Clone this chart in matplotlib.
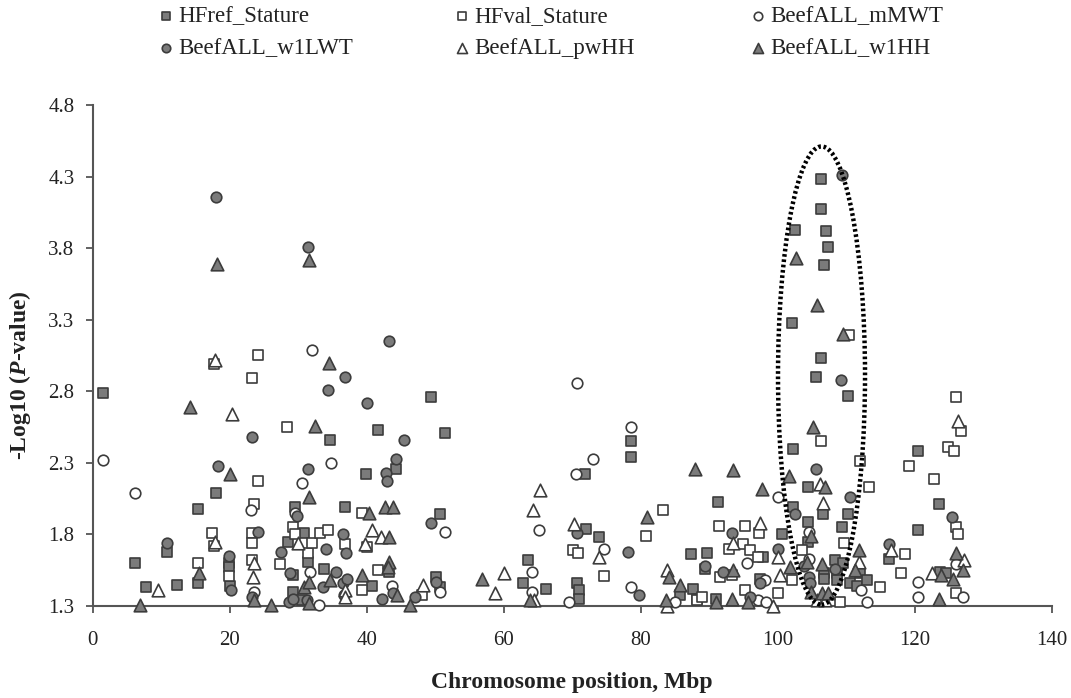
import numpy as np
import matplotlib
matplotlib.use("Agg")
import matplotlib.pyplot as plt
from matplotlib.patches import Ellipse

# ---------------- data ----------------
hfref_x = [1.5, 6.2, 7.8, 10.9, 12.3, 15.4, 15.4, 18.0, 19.9, 19.9, 20.0, 28.6, 29.6, 29.3, 29.2, 30.5, 30.8, 31.4,
           33.8, 34.6, 36.8, 39.9, 40.8, 41.7, 43.3, 44.3, 49.4, 50.1, 50.7, 50.7, 51.5, 62.8, 63.6, 66.2, 70.7,
           71.0, 71.0, 71.9, 72.0, 73.9, 78.6, 78.6, 85.8, 87.3, 87.6, 88.2, 89.4, 89.7, 91.0, 91.3, 97.4, 97.8,
           100.6, 102.1, 102.3, 102.3, 102.6, 104.4, 104.4, 104.5, 105.6, 106.3, 106.3, 106.3, 106.6, 106.7, 106.7,
           106.7, 107.0, 107.3, 108.4, 108.6, 108.6, 109.4, 109.5, 110.2, 110.2, 110.5, 111.6, 112.0, 113.1, 116.3,
           120.5, 120.5, 123.6, 123.7, 124.5]
hfref_y = [2.79, 1.60, 1.43, 1.68, 1.45, 1.98, 1.46, 2.09, 1.60, 1.57, 1.44, 1.75, 1.99, 1.52, 1.40, 1.34, 1.81, 1.61,
           1.56, 2.46, 1.99, 2.22, 1.44, 2.53, 1.54, 2.26, 2.76, 1.50, 1.94, 1.43, 2.51, 1.46, 1.62, 1.42, 1.46,
           1.41, 1.35, 2.22, 1.84, 1.78, 2.45, 2.34, 1.38, 1.66, 1.42, 1.35, 1.56, 1.67, 1.35, 2.03, 1.49, 1.64,
           1.80, 3.28, 2.40, 1.99, 3.93, 2.13, 1.89, 1.75, 2.90, 4.28, 4.07, 3.03, 1.94, 3.68, 1.53,
           1.49, 3.92, 3.81, 1.62, 1.53, 1.48, 1.85, 1.60, 2.77, 1.94, 1.46, 1.44, 1.53, 1.48, 1.63,
           2.38, 1.83, 2.01, 1.54, 1.53]

hfval_x = [15.4, 17.5, 17.8, 17.8, 23.3, 23.3, 23.3, 23.3, 23.5, 24.1, 24.1, 19.9, 27.3, 28.4, 29.3, 29.6, 31.4, 32.0,
           33.2, 34.4, 36.9, 39.3, 39.4, 40.1, 41.7, 48.1, 70.2, 70.8, 74.7, 80.8, 83.3, 88.2, 88.9, 91.5, 91.6,
           92.9, 93.3, 95.0, 95.2, 95.3, 95.9, 97.2, 97.3, 100.1, 102.1, 103.5, 106.3, 109.1, 109.7, 110.4, 112.0,
           113.4, 114.9, 118.0, 118.6, 119.2, 122.8, 124.9, 125.8, 126.0, 126.0, 126.1, 126.3, 126.8]
hfval_y = [1.60, 1.81, 1.72, 2.99, 2.89, 1.81, 1.74, 1.62, 2.01, 3.05, 2.17, 1.51, 1.59, 2.55, 1.85, 1.80, 1.67, 1.74,
           1.81, 1.83, 1.73, 1.41, 1.95, 1.71, 1.55, 1.38, 1.69, 1.67, 1.51, 1.79, 1.97, 1.34, 1.36, 1.86, 1.50,
           1.70, 1.52, 1.73, 1.86, 1.41, 1.69, 1.64, 1.81, 1.39, 1.48, 1.69, 2.45, 1.33, 1.74, 3.19, 2.31,
           2.13, 1.43, 1.53, 1.66, 2.28, 2.19, 2.41, 2.38, 2.76, 1.85, 1.39, 1.80, 2.52]

mmwt_x = [1.5, 6.2, 23.2, 23.5, 29.5, 30.6, 31.8, 32.0, 33.1, 34.8, 43.7, 50.7, 51.5, 64.1, 64.2, 65.2, 69.6, 70.5,
          70.7, 73.0, 74.7, 78.6, 78.6, 85.0, 95.5, 97.2, 98.2, 98.3, 100.1, 104.6, 104.6, 112.1, 113.0, 120.5,
          120.5, 126.1, 127.1]
mmwt_y = [2.32, 2.09, 1.97, 1.40, 1.95, 2.16, 1.54, 3.09, 1.31, 2.30, 1.44, 1.40, 1.82, 1.54, 1.40, 1.83, 1.33, 2.22,
          2.86, 2.33, 1.70, 2.55, 1.43, 1.33, 1.60, 1.34, 1.48, 1.33, 2.06, 1.82, 1.63, 1.41, 1.33, 1.47,
          1.36, 1.59, 1.36]

w1lwt_x = [10.9, 18.0, 18.3, 19.9, 20.2, 23.3, 23.3, 24.1, 27.5, 28.7, 28.8, 29.3, 29.8, 31.3, 31.5, 31.5, 33.7, 34.1,
           34.4, 35.6, 36.5, 36.6, 36.7, 36.8, 37.0, 37.2, 40.1, 42.3, 42.8, 43.0, 43.3, 43.9, 44.3, 45.4, 47.0,
           49.4, 50.1, 70.7, 78.1, 79.7, 89.4, 92.0, 93.3, 96.0, 97.4, 100.1, 102.6, 103.9, 104.6, 104.7, 105.6,
           108.4, 109.3, 109.4, 110.5, 116.3, 125.5]
w1lwt_y = [1.74, 4.16, 2.28, 1.65, 1.41, 2.48, 1.36, 1.82, 1.68, 1.33, 1.53, 1.35, 1.93, 1.34, 3.81, 2.26, 1.43, 1.70,
           2.81, 1.54, 1.80, 1.46, 1.38, 2.90, 1.67, 1.49, 2.72, 1.35, 2.23, 2.17, 3.15, 1.39, 2.33, 2.46, 1.36,
           1.88, 1.47, 1.81, 1.68, 1.38, 1.58, 1.54, 1.81, 1.36, 1.46, 1.70, 1.94, 1.58, 1.50, 1.46, 2.26,
           1.56, 2.88, 4.31, 2.06, 1.73, 1.92]

pwhh_x = [9.5, 17.9, 17.9, 20.3, 23.5, 23.4, 30.0, 36.8, 36.9, 39.7, 40.8, 42.1, 48.2, 58.8, 60.1, 64.3, 64.5, 65.3,
          70.3, 73.9, 83.8, 83.9, 93.5, 97.4, 99.3, 100.1, 100.3, 105.7, 106.2, 106.6, 106.9, 111.9, 116.5, 122.5,
          126.3, 127.2]
pwhh_y = [1.41, 3.02, 1.75, 2.64, 1.60, 1.50, 1.74, 1.41, 1.36, 1.73, 1.83, 1.78, 1.45, 1.39, 1.53, 1.97, 1.34, 2.11,
          1.87, 1.64, 1.30, 1.55, 1.74, 1.88, 1.30, 1.64, 1.52, 1.34, 2.15, 2.02, 1.34, 1.61, 1.69, 1.53,
          2.59, 1.62]

w1hh_x = [7.0, 14.2, 15.5, 18.1, 20.0, 23.5, 26.1, 30.8, 31.6, 31.6, 31.6, 31.6, 32.4, 34.5, 34.6, 39.4, 40.4, 42.7,
          43.2, 43.2, 43.1, 43.9, 44.5, 46.4, 56.9, 63.8, 80.9, 83.7, 84.2, 85.8, 87.9, 91.0, 93.3, 93.5, 93.5,
          95.7, 97.7, 101.6, 101.8, 102.7, 104.3, 104.9, 104.9, 105.1, 105.8, 106.4, 106.4, 106.9, 107.4, 109.5,
          111.3, 111.9, 123.6, 123.9, 125.6, 126.1, 127.0]
w1hh_y = [1.31, 2.69, 1.53, 3.69, 2.22, 1.34, 1.31, 1.43, 3.72, 2.06, 1.47, 1.32, 2.56, 3.00, 1.48, 1.52, 1.95, 1.99,
          1.78, 1.61, 1.57, 1.99, 1.38, 1.31, 1.49, 1.34, 1.92, 1.34, 1.50, 1.45, 2.26, 1.33, 1.35, 2.25, 1.55,
          1.33, 2.12, 2.21, 1.57, 3.73, 1.61, 1.79, 1.40, 2.55, 3.40, 1.59, 1.39, 2.13, 1.39, 3.20,
          1.55, 1.69, 1.35, 1.52, 1.49, 1.67, 1.55]

series_names = ["HFref_Stature", "HFval_Stature", "BeefALL_mMWT", "BeefALL_w1LWT", "BeefALL_pwHH", "BeefALL_w1HH"]
x_ticks = [0, 20, 40, 60, 80, 100, 120, 140]
y_ticks = [1.3, 1.8, 2.3, 2.8, 3.3, 3.8, 4.3, 4.8]

# ---------------- style ----------------
plt.rcParams['font.family'] = ['Liberation Serif', 'DejaVu Serif']
plt.rcParams['mathtext.fontset'] = 'custom'
plt.rcParams['mathtext.it'] = 'Liberation Serif:italic:bold'
plt.rcParams['mathtext.rm'] = 'Liberation Serif:bold'

GRAY = "#7b7b7b"
EDGE = "#3c3c3c"
TXT = "#222222"

fig = plt.figure(figsize=(10.71, 6.98), dpi=100)
ax = fig.add_axes([0.0864, 0.1318, 0.8956, 0.7178])

specs = [
    (hfref_x, hfref_y, 's', GRAY, 62),
    (hfval_x, hfval_y, 's', 'white', 62),
    (mmwt_x, mmwt_y, 'o', 'white', 58),
    (w1lwt_x, w1lwt_y, 'o', GRAY, 58),
    (pwhh_x, pwhh_y, '^', 'white', 82),
    (w1hh_x, w1hh_y, '^', GRAY, 82),
]
for (xs, ys, m, fc, s), name in zip(specs, series_names):
    ax.scatter(xs, ys, marker=m, s=s, facecolor=fc, edgecolor=EDGE, linewidths=1.2,
               label=name, clip_on=False, zorder=3)

# highlighted region
ell = Ellipse((106.4, 2.91), width=12.7, height=3.2, fill=False, edgecolor='black',
              linestyle=(0, (0.6, 0.6)), linewidth=3.2, zorder=4, clip_on=False)
ax.add_patch(ell)

ax.set_xlim(0, 140)
ax.set_ylim(1.3, 4.8)
ax.set_xticks(x_ticks)
ax.set_xticklabels([str(t) for t in x_ticks])
ax.set_yticks(y_ticks)
ax.set_yticklabels([f"{t:.1f}" for t in y_ticks])

for side in ['top', 'right']:
    ax.spines[side].set_visible(False)
for side in ['left', 'bottom']:
    ax.spines[side].set_color('#555555')
    ax.spines[side].set_linewidth(1.5)
ax.tick_params(axis='both', direction='out', length=5, width=1.3, color='#555555',
               labelsize=15, labelcolor=TXT)
ax.tick_params(axis='x', pad=13)
ax.tick_params(axis='y', pad=8)

ax.set_xlabel("Chromosome position, Mbp", fontsize=17, fontweight='bold', labelpad=16, color=TXT)
ax.set_ylabel(r"-Log10 ($\mathit{P}$-value)", fontsize=17, fontweight='bold', color=TXT)
ax.yaxis.set_label_coords(-0.062, 0.46)

# legend: three columns, two rows
handles, labels = ax.get_legend_handles_labels()
cols = [(0, 3), (1, 4), (2, 5)]
col_x = [0.1326, 0.4090, 0.6853]
for (i, j), cx in zip(cols, col_x):
    fig.legend([handles[i], handles[j]], [labels[i], labels[j]], loc='upper left',
               bbox_to_anchor=(cx, 1.015), frameon=False, fontsize=16.5, handlelength=0.7,
               handletextpad=0.2, labelspacing=0.5, borderpad=0.2, markerscale=0.8,
               labelcolor=TXT)

fig.savefig("out.png", dpi=100)
